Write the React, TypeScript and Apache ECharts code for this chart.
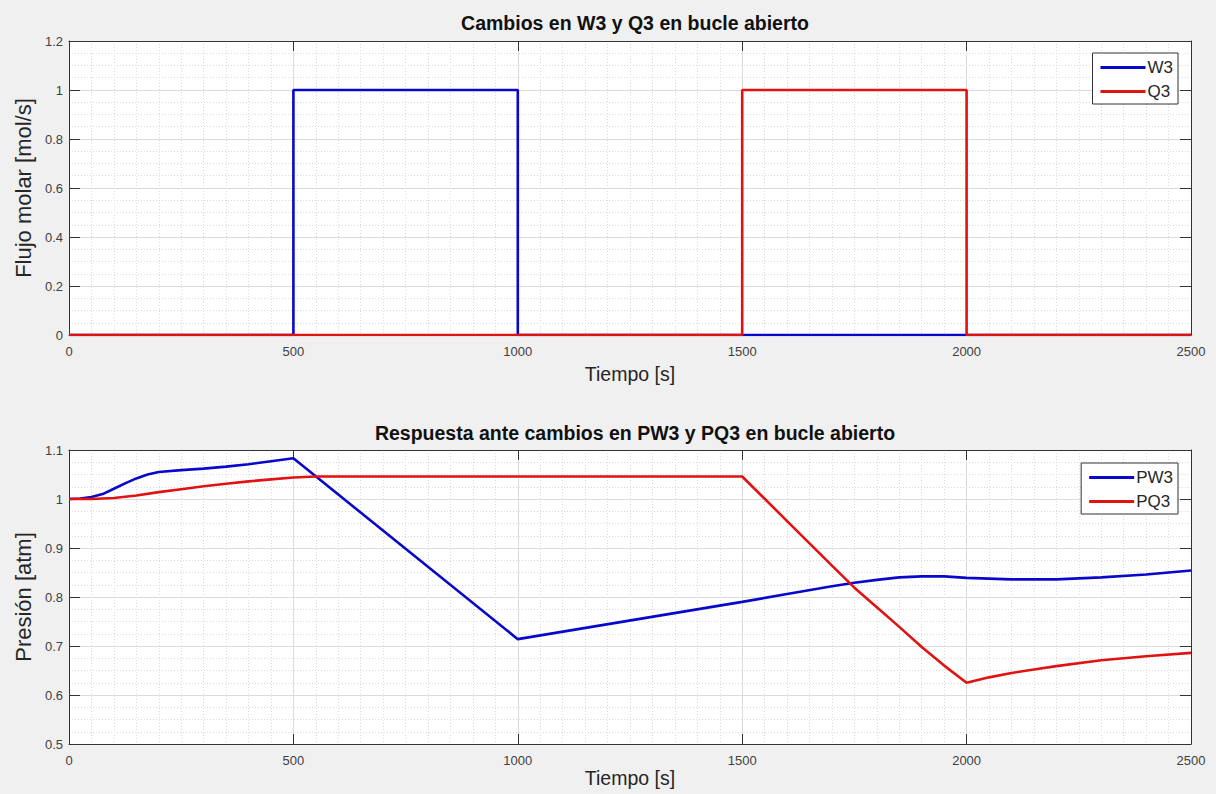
import React, { useEffect, useRef } from "react";
import * as echarts from "echarts";

// ---- Data ----
const timeW3 = [0, 500, 500, 1000, 1000, 2500];
const valW3 = [0, 0, 1, 1, 0, 0];
const timeQ3 = [0, 1500, 1500, 2000, 2000, 2500];
const valQ3 = [0, 0, 1, 1, 0, 0];

const timePW3 = [0, 25, 50, 75, 100, 125, 150, 175, 200, 250, 300, 350, 400, 450, 500, 1000, 1500, 1600, 1700, 1750, 1800, 1850, 1900, 1950, 2000, 2100, 2200, 2300, 2400, 2500];
const valPW3 = [1.0, 1.001, 1.004, 1.01, 1.021, 1.032, 1.042, 1.05, 1.055, 1.059, 1.062, 1.066, 1.071, 1.077, 1.083, 0.714, 0.79, 0.806, 0.822, 0.829, 0.835, 0.84, 0.842, 0.842, 0.839, 0.836, 0.836, 0.84, 0.846, 0.854];

const timePQ3 = [0, 50, 100, 150, 200, 250, 300, 350, 400, 450, 500, 550, 1500, 1600, 1700, 1750, 1800, 1850, 1900, 1950, 2000, 2050, 2100, 2150, 2200, 2300, 2400, 2500];
const valPQ3 = [1.0, 1.0, 1.002, 1.007, 1.014, 1.02, 1.026, 1.031, 1.036, 1.04, 1.044, 1.046, 1.046, 0.955, 0.864, 0.819, 0.779, 0.739, 0.698, 0.66, 0.625, 0.636, 0.645, 0.652, 0.659, 0.671, 0.679, 0.686];

const titleTop = "Cambios en W3 y Q3 en bucle abierto";
const titleBottom = "Respuesta ante cambios en PW3 y PQ3 en bucle abierto";
const xName = "Tiempo [s]";
const yNameTop = "Flujo molar [mol/s]";
const yNameBottom = "Presión [atm]";

const pair = (t: number[], v: number[]) => t.map((x, i) => [x, v[i]]);

const BLUE = "#0808cc";
const RED = "#e01212";
const AXIS = "#333333";
const FONT = "'Liberation Sans', Arial, sans-serif";

export default function App() {
  const ref = useRef<HTMLDivElement>(null);
  useEffect(() => {
    if (!ref.current) return;
    const chart = echarts.init(ref.current, undefined, { renderer: "svg" });

    const mainX = (gridIndex: number, nameGap: number) => ({
      type: "value",
      gridIndex,
      min: 0,
      max: 2500,
      interval: 500,
      name: xName,
      nameLocation: "middle",
      nameGap,
      nameTextStyle: { fontSize: 19.5, color: "#262626", fontFamily: FONT },
      axisLine: { show: true, lineStyle: { color: AXIS, width: 1 } },
      axisTick: { show: true, inside: true, length: 10, lineStyle: { color: AXIS } },
      axisLabel: { fontSize: 13, color: "#404040", margin: 10, fontFamily: FONT, formatter: (v: number) => String(v) },
      splitLine: { show: true, lineStyle: { color: "#dcdcdc", width: 1 } },
      minorTick: { show: false, splitNumber: 10 },
      minorSplitLine: { show: true, lineStyle: { color: "#dadada", width: 1, type: [1, 2] } },
    });
    const mainY = (gridIndex: number, min: number, max: number, interval: number, name: string) => ({
      type: "value",
      gridIndex,
      min,
      max,
      interval,
      name,
      nameLocation: "middle",
      nameGap: 28,
      nameTextStyle: { fontSize: 22, color: "#262626", fontFamily: FONT },
      axisLine: { show: true, lineStyle: { color: AXIS, width: 1 } },
      axisTick: { show: true, inside: true, length: 11, lineStyle: { color: AXIS } },
      axisLabel: { fontSize: 13, color: "#404040", margin: 6, fontFamily: FONT },
      splitLine: { show: true, lineStyle: { color: "#dcdcdc", width: 1 } },
      minorTick: { show: false, splitNumber: 4 },
      minorSplitLine: { show: true, lineStyle: { color: "#dadada", width: 1, type: [1, 2] } },
    });
    const boxX = (gridIndex: number) => ({
      type: "value",
      gridIndex,
      position: "top",
      min: 0,
      max: 2500,
      interval: 500,
      axisLine: { show: true, onZero: false, lineStyle: { color: AXIS, width: 1 } },
      axisTick: { show: true, inside: true, length: 10, lineStyle: { color: AXIS } },
      axisLabel: { show: false },
      splitLine: { show: false },
    });
    const boxY = (gridIndex: number, min: number, max: number, interval: number) => ({
      type: "value",
      gridIndex,
      position: "right",
      min,
      max,
      interval,
      axisLine: { show: true, onZero: false, lineStyle: { color: AXIS, width: 1 } },
      axisTick: { show: true, inside: true, length: 11, lineStyle: { color: AXIS } },
      axisLabel: { show: false },
      splitLine: { show: false },
    });

    const legendBase = {
      orient: "vertical",
      right: 38,
      backgroundColor: "#ffffff",
      borderColor: AXIS,
      borderWidth: 1,
      borderRadius: 0,
      padding: [6, 5, 4, 8],
      icon: "rect",
      itemWidth: 45,
      itemHeight: 3,
      itemGap: 7,
      textStyle: { fontSize: 17, color: "#262626", fontFamily: FONT, padding: [0, 0, 0, -3] },
    };

    const lineSeries = (name: string, xi: number, yi: number, data: number[][], color: string) => ({
      type: "line",
      name,
      xAxisIndex: xi,
      yAxisIndex: yi,
      data,
      symbol: "none",
      showSymbol: false,
      lineStyle: { color, width: 2.6 },
      itemStyle: { color },
      emphasis: { disabled: true },
    });

    chart.setOption({
      animation: false,
      backgroundColor: "#f0f0f0",
      textStyle: { fontFamily: FONT },
      title: [
        {
          text: titleTop,
          left: 630,
          top: 8,
          textAlign: "center",
          textStyle: { fontSize: 19.5, fontWeight: "bold", color: "#111", fontFamily: FONT },
        },
        {
          text: titleBottom,
          left: 630,
          top: 418,
          textAlign: "center",
          textStyle: { fontSize: 19.5, fontWeight: "bold", color: "#111", fontFamily: FONT },
        },
      ],
      grid: [
        { left: 69, right: 25, top: 41, height: 294, show: true, backgroundColor: "#ffffff", borderWidth: 0 },
        { left: 69, right: 25, top: 450, height: 294, show: true, backgroundColor: "#ffffff", borderWidth: 0 },
      ],
      xAxis: [mainX(0, 29), mainX(1, 24), boxX(0), boxX(1)],
      yAxis: [
        mainY(0, 0, 1.2, 0.2, yNameTop),
        mainY(1, 0.5, 1.1, 0.1, yNameBottom),
        boxY(0, 0, 1.2, 0.2),
        boxY(1, 0.5, 1.1, 0.1),
      ],
      legend: [
        { ...legendBase, top: 53, data: ["W3", "Q3"] },
        { ...legendBase, top: 463, data: ["PW3", "PQ3"] },
      ],
      series: [
        lineSeries("W3", 0, 0, pair(timeW3, valW3), BLUE),
        lineSeries("Q3", 0, 0, pair(timeQ3, valQ3), RED),
        lineSeries("PW3", 1, 1, pair(timePW3, valPW3), BLUE),
        lineSeries("PQ3", 1, 1, pair(timePQ3, valPQ3), RED),
      ],
    });
    return () => chart.dispose();
  }, []);
  return (
    <div
      ref={ref}
      style={{ position: "fixed", left: 0, top: 0, width: 1216, height: 794 }}
    />
  );
}
